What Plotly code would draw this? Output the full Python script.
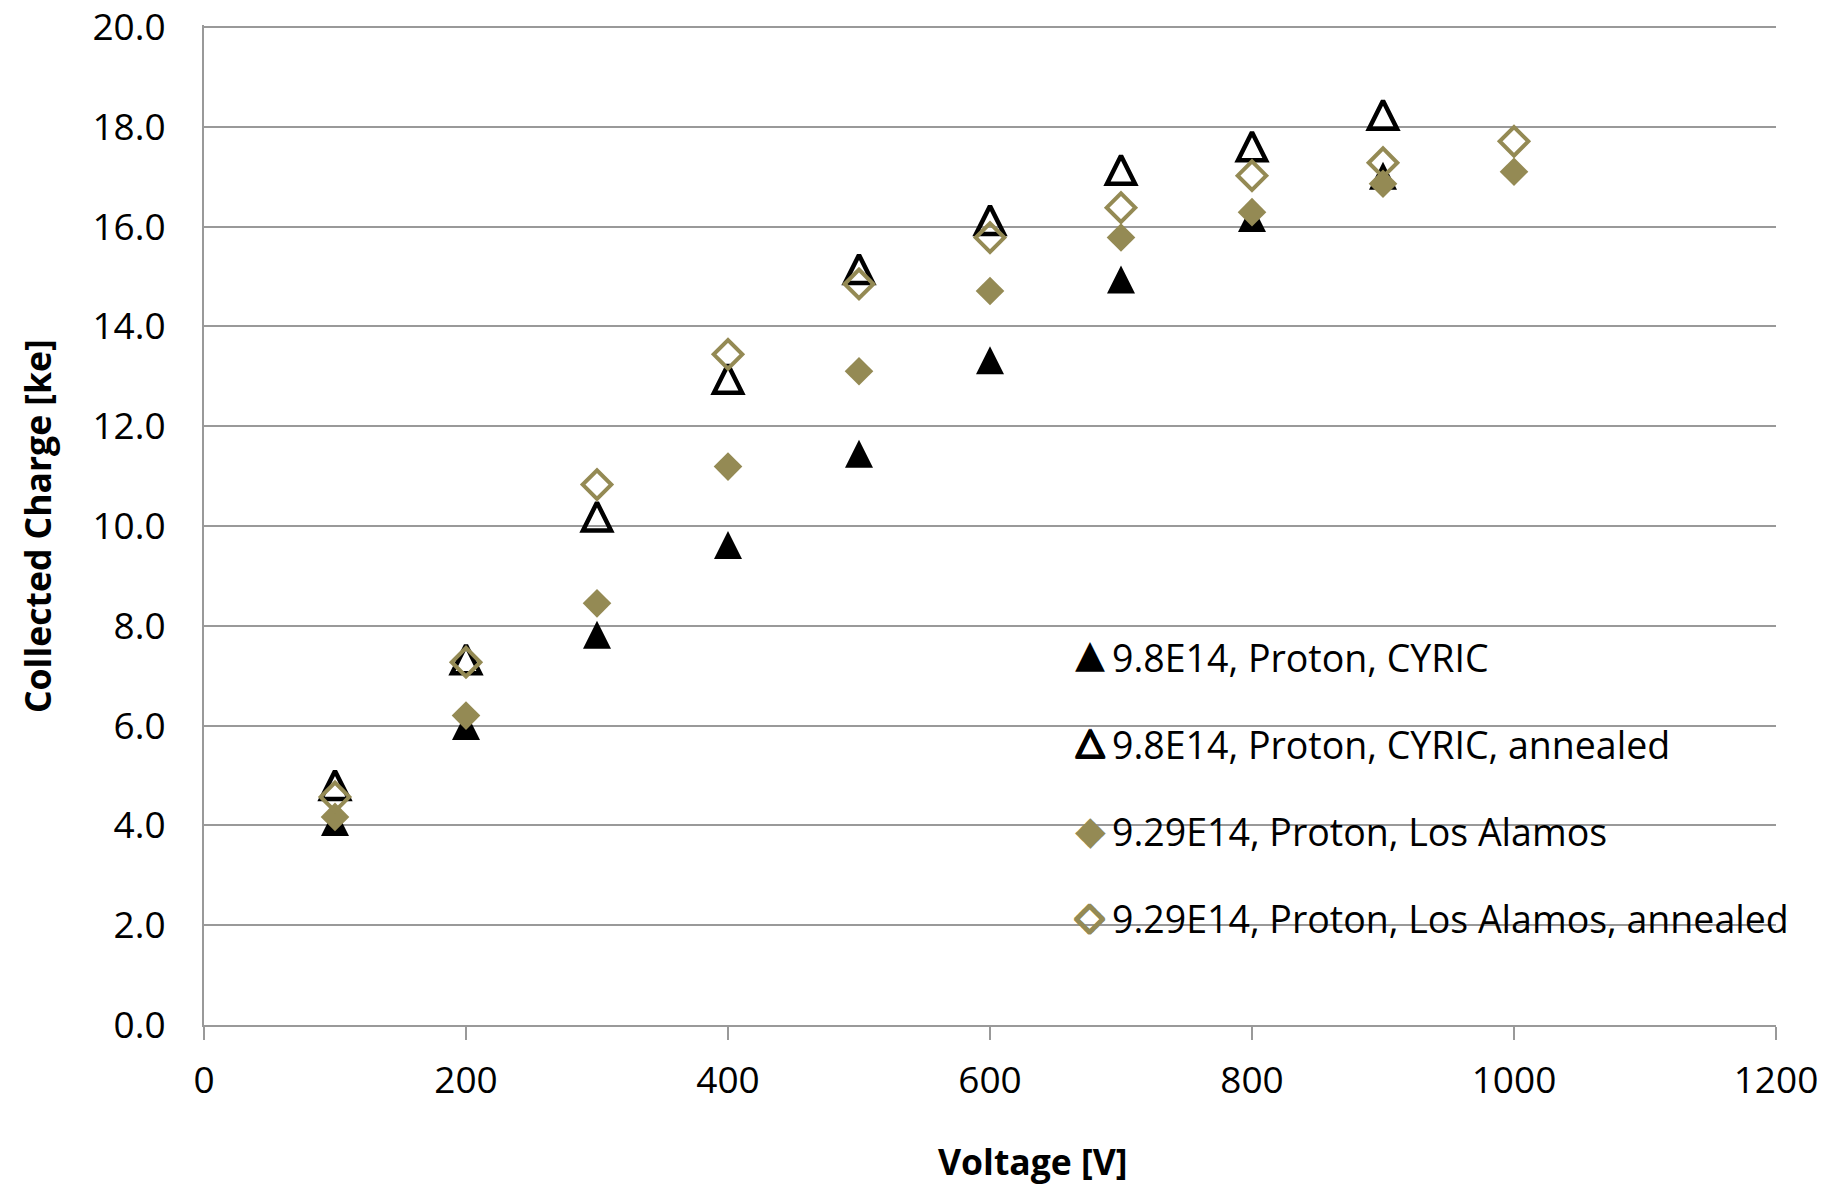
import plotly.graph_objects as go

# ---------------- data ----------------
voltage_cyric = [100, 200, 300, 400, 500, 600, 700, 800, 900]
voltage_la = [100, 200, 300, 400, 500, 600, 700, 800, 900, 1000]

charge_cyric = [4.07, 5.99, 7.82, 9.62, 11.45, 13.32, 14.94, 16.17, 17.02]
charge_cyric_annealed = [4.81, 7.33, 10.19, 12.95, 15.15, 16.13, 17.14, 17.61, 18.24]
charge_la = [4.17, 6.20, 8.45, 11.19, 13.10, 14.71, 15.78, 16.29, 16.86, 17.10]
charge_la_annealed = [4.57, 7.27, 10.83, 13.44, 14.85, 15.78, 16.38, 17.02, 17.28, 17.71]

series_names = [
    "9.8E14, Proton, CYRIC",
    "9.8E14, Proton, CYRIC, annealed",
    "9.29E14, Proton, Los Alamos",
    "9.29E14, Proton, Los Alamos, annealed",
]

x_ticks = [0, 200, 400, 600, 800, 1000, 1200]
y_ticks = [0, 2, 4, 6, 8, 10, 12, 14, 16, 18, 20]

x_title = "Voltage [V]"
y_title = "Collected Charge [ke]"

# ---------------- style ----------------
W, H = 1824, 1185
ML, MR, MT, MB = 204, 48, 25, 160
PW, PH = W - ML - MR, H - MT - MB
FONT = "Open Sans"
GLYPH_FONT = "DejaVu Sans"
OLIVE = "#948A54"
GRID = "#999999"
TRI = 28
DIA = 22
legend_rows_px = [657, 744, 832, 918]


def thick(col, d=1.2):
    parts = []
    for dx, dy in [(d, 0), (-d, 0), (0, d), (0, -d),
                   (0.8 * d, 0.8 * d), (-0.8 * d, -0.8 * d),
                   (0.8 * d, -0.8 * d), (-0.8 * d, 0.8 * d)]:
        parts.append(f"{dx:.2f}px {dy:.2f}px 0px {col}")
    return ", ".join(parts)


# legend key glyphs: (glyph, colour, size, vertical offset of glyph centre, text shadow)
legend_keys = [
    ("\u25B2", "black", 39, 0.09, "none"),
    ("\u25B3", "black", 37, 0.09, thick("black")),
    ("\u25C6", OLIVE, 40, 0.06, "none"),
    ("\u25C7", OLIVE, 38, 0.06, thick(OLIVE)),
]


def px_x(p):
    return (p - ML) / PW


def px_y(p):
    return (H - MB - p) / PH


fig = go.Figure()

fig.add_trace(go.Scatter(
    x=voltage_cyric, y=charge_cyric, mode="markers", name=series_names[0],
    marker=dict(symbol="arrow-down", angle=180, standoff=TRI / 2, size=TRI,
                color="black", line=dict(width=0)),
))
fig.add_trace(go.Scatter(
    x=voltage_cyric, y=charge_cyric_annealed, mode="markers", name=series_names[1],
    marker=dict(symbol="arrow-down-open", angle=180, standoff=TRI / 2, size=TRI,
                color="black", line=dict(width=4.5, color="black")),
))
fig.add_trace(go.Scatter(
    x=voltage_la, y=charge_la, mode="markers", name=series_names[2],
    marker=dict(symbol="diamond", size=DIA, color=OLIVE, line=dict(width=0)),
))
fig.add_trace(go.Scatter(
    x=voltage_la, y=charge_la_annealed, mode="markers", name=series_names[3],
    marker=dict(symbol="diamond-open", size=DIA, color=OLIVE,
                line=dict(width=4, color=OLIVE)),
))

annotations = [
    dict(text=f"<b>{x_title}</b>", xref="paper", yref="paper",
         x=px_x(1033), y=px_y(1161), xanchor="center", yanchor="middle",
         showarrow=False, font=dict(family=FONT, size=35.5, color="black")),
    dict(text=f"<b>{y_title}</b>", xref="paper", yref="paper",
         x=px_x(37), y=px_y(526), xanchor="center", yanchor="middle",
         textangle=-90, showarrow=False,
         font=dict(family=FONT, size=35.5, color="black")),
]
for name, (glyph, col, size, k, shadow), row in zip(series_names, legend_keys, legend_rows_px):
    annotations.append(dict(
        text=glyph, xref="paper", yref="paper", x=px_x(1090), y=px_y(row - k * size),
        xanchor="center", yanchor="middle", showarrow=False, borderpad=0,
        font=dict(family=GLYPH_FONT, size=size, color=col, shadow=shadow)))
    annotations.append(dict(
        text=name, xref="paper", yref="paper", x=px_x(1111), y=px_y(row),
        xanchor="left", yanchor="middle", showarrow=False, borderpad=0,
        font=dict(family=FONT, size=37.5, color="black")))

fig.update_layout(
    width=W, height=H,
    margin=dict(l=ML, r=MR, t=MT, b=MB, pad=0, autoexpand=False),
    paper_bgcolor="white", plot_bgcolor="white",
    font=dict(family=FONT, size=37, color="black"),
    showlegend=False,
    xaxis=dict(
        range=[0, 1200], tickvals=x_ticks, ticktext=[str(v) for v in x_ticks],
        showgrid=False, zeroline=False, automargin=False,
        showline=True, linecolor=GRID, linewidth=2,
        ticks="outside", ticklen=13, tickwidth=2, tickcolor=GRID,
        ticklabelstandoff=9, ticklabeloverflow="allow",
        tickfont=dict(family=FONT, size=37, color="black"),
    ),
    xaxis2=dict(
        range=[0, 1200], overlaying="x", anchor="y", side="bottom",
        tickvals=x_ticks, showticklabels=False, showgrid=False, zeroline=False,
        automargin=False,
        showline=False, ticks="inside", ticklen=14, tickwidth=2, tickcolor=GRID,
    ),
    yaxis=dict(
        range=[0, 20.04], tickvals=y_ticks, ticktext=[f"{v:.1f}" for v in y_ticks],
        showgrid=True, gridcolor=GRID, gridwidth=2, zeroline=False, automargin=False,
        showline=True, linecolor=GRID, linewidth=2,
        ticks="", ticklabelstandoff=29, ticklabeloverflow="allow",
        tickfont=dict(family=FONT, size=37, color="black"),
    ),
    shapes=[dict(
        type="rect", xref="paper", yref="paper", layer="between",
        x0=px_x(1019), x1=1.0, y0=px_y(1000), y1=px_y(545),
        fillcolor="white", line=dict(width=0),
    )],
    annotations=annotations,
)

fig.write_html("out.html", config={"displayModeBar": False},
               post_script="document.body.style.margin='0';document.body.style.overflow='hidden';")
